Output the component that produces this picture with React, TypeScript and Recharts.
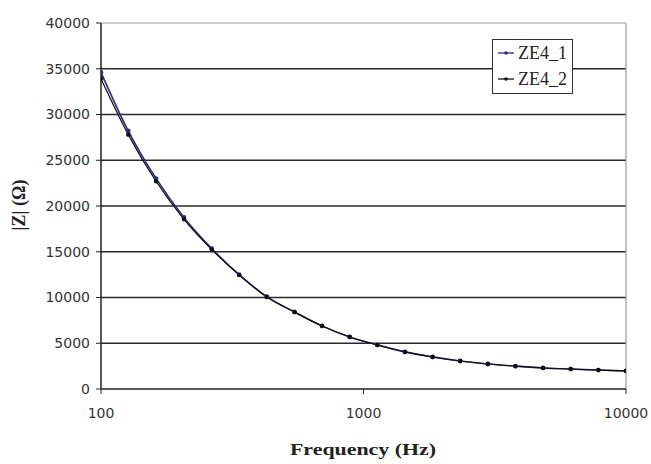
import React from 'react';
import { LineChart, Line, XAxis, YAxis, ReferenceLine } from 'recharts';

const frequencies = [100, 127, 162, 207, 264, 336, 428, 546, 695, 886, 1129, 1438, 1833, 2336, 2976, 3793, 4833, 6158, 7848, 10000];
const ze4_1 = [34600, 28200, 23000, 18750, 15350, 12500, 10100, 8420, 6900, 5690, 4820, 4060, 3510, 3060, 2730, 2500, 2300, 2180, 2070, 1970];
const ze4_2 = [33900, 27800, 22700, 18550, 15250, 12450, 10050, 8400, 6880, 5680, 4810, 4050, 3500, 3060, 2730, 2500, 2300, 2180, 2070, 1970];
const xTicks = [100, 1000, 10000];
const yTicks = [0, 5000, 10000, 15000, 20000, 25000, 30000, 35000, 40000];
const seriesNames = ['ZE4_1', 'ZE4_2'];
const seriesColors = ['#2e2e7a', '#111111'];

const data = frequencies.map((f, i) => ({ freq: f, a: ze4_1[i], b: ze4_2[i] }));

const tickStyle = { fill: '#333', fontSize: 14, fontFamily: 'DejaVu Sans' };

function LegendBox() {
  return (
    <div
      style={{
        position: 'absolute',
        left: 492,
        top: 39,
        width: 79,
        height: 53,
        background: '#fff',
        border: '1px solid #333',
        fontFamily: 'Liberation Serif',
        fontSize: 18,
        color: '#222',
      }}
    >
      {seriesNames.map((name, i) => (
        <div key={name} style={{ display: 'flex', alignItems: 'center', height: 26, paddingLeft: 3 }}>
          <svg width={20} height={10} style={{ marginRight: 2 }}>
            <line x1={2} y1={5} x2={18} y2={5} stroke={seriesColors[i]} strokeWidth={1.3} />
            <circle cx={10} cy={5} r={1.8} fill={seriesColors[i]} />
          </svg>
          <span>{name}</span>
        </div>
      ))}
    </div>
  );
}

export default function App() {
  return (
    <div style={{ position: 'absolute', left: 0, top: 0, width: 651, height: 464, background: '#fff' }}>
      <LineChart width={651} height={464} data={data} margin={{ top: 23, right: 25, left: 0, bottom: 0 }}>
        {yTicks
          .filter((v) => v > 0 && v < 40000)
          .map((v) => (
            <ReferenceLine key={v} y={v} stroke="#2a2a2a" strokeWidth={1.4} />
          ))}
        <ReferenceLine y={40000} stroke="#999" strokeWidth={1.2} />
        <ReferenceLine x={10000} stroke="#999" strokeWidth={1.2} />
        <XAxis
          dataKey="freq"
          type="number"
          scale="log"
          domain={[100, 10000]}
          ticks={xTicks}
          allowDataOverflow
          height={75}
          tick={tickStyle}
          tickSize={5}
          tickMargin={14}
          axisLine={{ stroke: '#222', strokeWidth: 1.5 }}
          tickLine={{ stroke: '#222' }}
          label={{
            content: () => (
              <text
                x={363}
                y={455}
                textAnchor="middle"
                fontFamily="Liberation Serif"
                fontWeight="bold"
                fontSize={17}
                fill="#222"
                textLength={146}
                lengthAdjust="spacingAndGlyphs"
              >
                Frequency (Hz)
              </text>
            ),
          }}
        />
        <YAxis
          type="number"
          domain={[0, 40000]}
          ticks={yTicks}
          interval={0}
          width={101}
          tick={tickStyle}
          tickSize={5}
          tickMargin={6}
          axisLine={{ stroke: '#222', strokeWidth: 1.5 }}
          tickLine={{ stroke: '#222' }}
          label={{
            content: () => (
              <text
                x={0}
                y={0}
                transform="translate(25,205) rotate(-90)"
                textAnchor="middle"
                fontFamily="Liberation Serif"
                fontWeight="bold"
                fontSize={18}
                fill="#222"
              >
                |Z| (Ω)
              </text>
            ),
          }}
        />
        <Line
          dataKey="a"
          name={seriesNames[0]}
          type="monotone"
          stroke={seriesColors[0]}
          strokeWidth={1.6}
          dot={{ r: 1.6, fill: seriesColors[0], stroke: seriesColors[0] }}
          isAnimationActive={false}
        />
        <Line
          dataKey="b"
          name={seriesNames[1]}
          type="monotone"
          stroke={seriesColors[1]}
          strokeWidth={1.2}
          dot={{ r: 1.6, fill: seriesColors[1], stroke: seriesColors[1] }}
          isAnimationActive={false}
        />
      </LineChart>
      <LegendBox />
    </div>
  );
}
